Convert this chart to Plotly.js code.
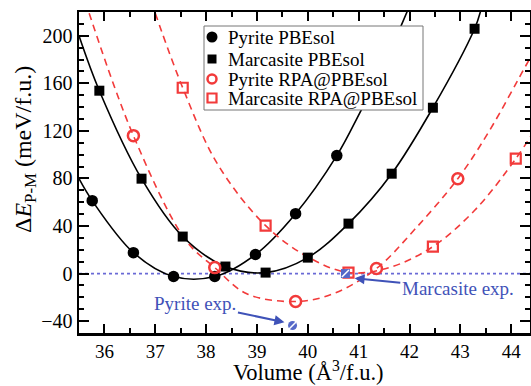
<!DOCTYPE html>
<html>
<head>
<meta charset="utf-8">
<script src="https://cdn.plot.ly/plotly-3.0.1.min.js"></script>
<style>html,body{margin:0;padding:0;background:#fff;}#chart{width:531px;height:386px;}</style>
</head>
<body>
<div id="chart"></div>
<script>
// ---- data ----
// Pyrite PBEsol (calculated points)
const pyPbeX = [35.76, 36.57, 37.36, 38.17, 38.97, 39.76, 40.57];
const pyPbeY = [61.3, 17.6, -2.5, -2.5, 16.0, 50.4, 99.2];
// Marcasite PBEsol
const maPbeX = [35.90, 36.73, 37.54, 38.38, 39.17, 40.00, 40.80, 41.65, 42.46, 43.28];
const maPbeY = [153.8, 79.8, 31.1, 5.9, 0.8, 13.4, 42.0, 84.0, 139.5, 205.9];
// Pyrite RPA@PBEsol
const pyRpaX = [36.57, 38.17, 39.76, 41.35, 42.95];
const pyRpaY = [116.0, 5.0, -23.5, 4.2, 79.8];
// Marcasite RPA@PBEsol
const maRpaX = [37.54, 39.17, 40.80, 42.46, 44.09];
const maRpaY = [156.3, 40.3, 0.8, 22.7, 96.6];

// fitted curves
const pyPbeFitX = [35.50, 35.76, 36.57, 37.36, 38.17, 38.97, 39.76, 40.57, 41.02, 41.50, 41.97];
const pyPbeFitY = [79.8, 61.3, 17.6, -2.5, -2.5, 16.0, 50.4, 99.2, 135, 176, 222];
const maPbeFitX = [35.50, 35.90, 36.73, 37.54, 38.38, 39.17, 40.00, 40.80, 41.65, 42.46, 43.28, 43.40];
const maPbeFitY = [200, 153.8, 79.8, 31.1, 5.9, 0.8, 13.4, 42.0, 84.0, 139.5, 205.9, 221];
const pyRpaFitX = [35.70, 36.57, 37.60, 38.17, 38.80, 39.76, 40.50, 41.35, 42.10, 42.95, 43.57, 44.29, 44.45];
const pyRpaFitY = [219, 116, 28, 5.0, -17, -23.5, -17, 4.2, 37, 79.8, 120, 175, 187];
const maRpaFitX = [37.00, 37.54, 38.22, 39.17, 40.00, 40.80, 41.60, 42.46, 43.30, 44.09, 44.45];
const maRpaFitY = [219, 156.3, 92.4, 40.3, 14, 0.8, 5, 22.7, 54, 96.6, 120];

// experimental volumes
const expX = [39.70, 40.74];
const expY = [-43.7, 0.0];
const expSymbols = ['circle', 'square'];
const expLabels = ['Pyrite exp.', 'Marcasite exp.'];
const expTextX = [37.79, 42.95];
const expTextY = [-25.2, -12.6];
const expArrowX = [39.54, 40.92];
const expArrowY = [-41.0, -4.0];

const legendNames = ['Pyrite PBEsol', 'Marcasite PBEsol', 'Pyrite RPA@PBEsol', 'Marcasite RPA@PBEsol'];
const xTitle = 'Volume (Å<sup>3</sup>/f.u.)';
const yTitle = 'Δ<i>E</i><sub>P-M</sub> (meV/f.u.)';

const RED = '#f23a3a';
const BLUE = '#3f52b8';
const FONT = 'Liberation Serif, Times New Roman, serif';

// plot-area pixel helpers (for the legend box / titles placement only)
const PL = 79, PW = 451, PB = 333, PH = 321;
const px = v => (v - PL) / PW;
const py = v => (PB - v) / PH;

const traces = [
  {x: pyPbeFitX, y: pyPbeFitY, mode: 'lines', line: {color: '#000', width: 1.6, shape: 'spline', smoothing: 1}, showlegend: false, hoverinfo: 'skip'},
  {x: maPbeFitX, y: maPbeFitY, mode: 'lines', line: {color: '#000', width: 1.6, shape: 'spline', smoothing: 1}, showlegend: false, hoverinfo: 'skip'},
  {x: pyRpaFitX, y: pyRpaFitY, mode: 'lines', line: {color: RED, width: 1.6, dash: '7px,5px', shape: 'spline', smoothing: 1}, showlegend: false, hoverinfo: 'skip'},
  {x: maRpaFitX, y: maRpaFitY, mode: 'lines', line: {color: RED, width: 1.6, dash: '7px,5px', shape: 'spline', smoothing: 1}, showlegend: false, hoverinfo: 'skip'},
  {x: pyPbeX, y: pyPbeY, mode: 'markers', name: legendNames[0], showlegend: false, marker: {symbol: 'circle', size: 11.5, color: '#000'}},
  {x: maPbeX, y: maPbeY, mode: 'markers', name: legendNames[1], showlegend: false, marker: {symbol: 'square', size: 10, color: '#000'}},
  {x: pyRpaX, y: pyRpaY, mode: 'markers', name: legendNames[2], showlegend: false, marker: {symbol: 'circle-open', size: 11, color: RED, line: {width: 2.5, color: RED}}},
  {x: maRpaX, y: maRpaY, mode: 'markers', name: legendNames[3], showlegend: false, marker: {symbol: 'square-open', size: 10, color: RED, line: {width: 2.2, color: RED}}},
  {x: expX, y: expY, mode: 'markers', showlegend: false, marker: {symbol: expSymbols, size: 9, color: '#5568c8', line: {width: 0}}},
  {x: expX, y: expY, mode: 'markers', showlegend: false, marker: {symbol: 'line-ne', size: 7, color: '#fff', line: {width: 1.5, color: '#fff'}}}
];

const annotations = expLabels.map((t, i) => ({
  text: t, x: expArrowX[i], y: expArrowY[i], xref: 'x', yref: 'y',
  ax: expTextX[i], ay: expTextY[i], axref: 'x', ayref: 'y',
  showarrow: true, arrowhead: 2, arrowsize: 1, arrowwidth: 2, arrowcolor: BLUE,
  font: {family: FONT, size: 19, color: BLUE}
}));

// legend (box, symbols, labels)
const legRowY = [37, 59, 79, 98];
const legSymX = 212, legTextX = 226;
legendNames.forEach((n, i) => {
  annotations.push({text: n, xref: 'paper', yref: 'paper', x: px(legTextX), y: py(legRowY[i]),
    xanchor: 'left', yanchor: 'middle', showarrow: false,
    font: {family: FONT, size: 19, color: '#000'}});
});
// axis titles
annotations.push({text: yTitle, xref: 'paper', yref: 'paper',
  x: px(25), y: py(150), xanchor: 'center', yanchor: 'middle', textangle: -90, showarrow: false,
  font: {family: FONT, size: 24, color: '#000'}});
annotations.push({text: xTitle, xref: 'paper', yref: 'paper',
  x: px(308), y: py(371), xanchor: 'center', yanchor: 'middle', showarrow: false,
  font: {family: FONT, size: 22.5, color: '#000'}});

const shapes = [
  {type: 'line', xref: 'paper', yref: 'y', x0: 0, x1: 1, y0: 0, y1: 0, layer: 'below',
   line: {color: '#6a6ad6', width: 1.8, dash: 'dot'}},
  {type: 'rect', xref: 'paper', yref: 'paper', x0: px(204), x1: px(423), y0: py(110), y1: py(26),
   fillcolor: '#fff', line: {color: '#777', width: 1}, layer: 'above'},
  {type: 'circle', xref: 'paper', yref: 'paper', x0: px(legSymX - 5.5), x1: px(legSymX + 5.5), y0: py(legRowY[0] + 5.5), y1: py(legRowY[0] - 5.5),
   fillcolor: '#000', line: {width: 0}, layer: 'above'},
  {type: 'rect', xref: 'paper', yref: 'paper', x0: px(legSymX - 4.5), x1: px(legSymX + 4.5), y0: py(legRowY[1] + 4.5), y1: py(legRowY[1] - 4.5),
   fillcolor: '#000', line: {width: 0}, layer: 'above'},
  {type: 'circle', xref: 'paper', yref: 'paper', x0: px(legSymX - 4.5), x1: px(legSymX + 4.5), y0: py(legRowY[2] + 4.5), y1: py(legRowY[2] - 4.5),
   fillcolor: 'rgba(0,0,0,0)', line: {color: RED, width: 2.5}, layer: 'above'},
  {type: 'rect', xref: 'paper', yref: 'paper', x0: px(legSymX - 4.5), x1: px(legSymX + 4.5), y0: py(legRowY[3] + 4.5), y1: py(legRowY[3] - 4.5),
   fillcolor: 'rgba(0,0,0,0)', line: {color: RED, width: 2.2}, layer: 'above'}
];

const layout = {
  width: 531, height: 386,
  margin: {l: 79, r: 1, t: 12, b: 53},
  paper_bgcolor: '#fff', plot_bgcolor: '#fff',
  font: {family: FONT, color: '#000'},
  showlegend: false,
  xaxis: {
    range: [35.5, 44.37], dtick: 1, tick0: 36,
    ticks: 'inside', ticklen: 9, tickwidth: 2, tickcolor: '#000',
    minor: {dtick: 0.5, ticks: 'inside', ticklen: 5, tickwidth: 2, tickcolor: '#000'},
    showline: true, linewidth: 2.5, linecolor: '#000', mirror: 'allticks',
    showgrid: false, zeroline: false,
    tickfont: {family: FONT, size: 19, color: '#000'}
  },
  yaxis: {
    range: [-50, 220], dtick: 40, tick0: 0,
    ticks: 'inside', ticklen: 10, tickwidth: 2, tickcolor: '#000',
    minor: {dtick: 10, ticks: 'inside', ticklen: 5, tickwidth: 2, tickcolor: '#000'},
    showline: true, linewidth: 2.5, linecolor: '#000', mirror: 'allticks',
    showgrid: false, zeroline: false,
    tickfont: {family: FONT, size: 20, color: '#000'}
  },
  shapes: shapes,
  annotations: annotations
};

Plotly.newPlot('chart', traces, layout, {displayModeBar: false, staticPlot: true});
</script>
</body>
</html>
